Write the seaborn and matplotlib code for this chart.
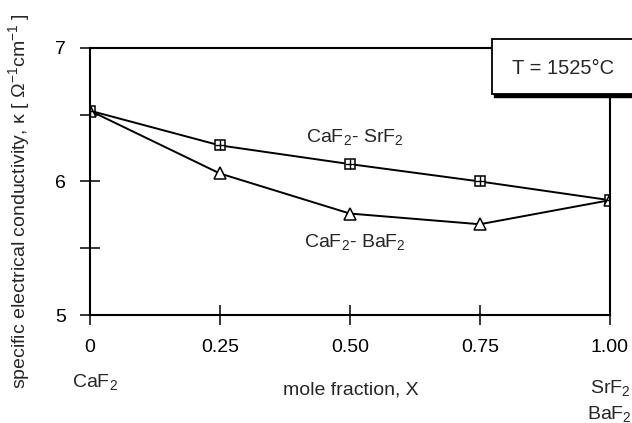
import matplotlib
matplotlib.use("Agg")
import matplotlib.pyplot as plt
import seaborn as sns
import pandas as pd
from matplotlib.patches import Rectangle

x_frac = [0.0, 0.25, 0.50, 0.75, 1.00]
kappa_srf2 = [6.53, 6.27, 6.13, 6.00, 5.86]
kappa_baf2 = [6.53, 6.06, 5.76, 5.68, 5.86]
x_ticks = [0.0, 0.25, 0.50, 0.75, 1.00]
x_ticklabels = ["0", "0.25", "0.50", "0.75", "1.00"]
y_ticks = [5, 5.5, 6, 6.5, 7]
y_ticklabels = ["5", "", "6", "", "7"]

sns.set_style("white")
plt.rcParams['font.family'] = ['Liberation Sans', 'DejaVu Sans']
plt.rcParams['mathtext.fontset'] = 'custom'
plt.rcParams['mathtext.rm'] = 'Liberation Sans'
plt.rcParams['mathtext.it'] = 'Liberation Sans'

FS = 14

df_sr = pd.DataFrame({"x": x_frac, "k": kappa_srf2})
df_ba = pd.DataFrame({"x": x_frac, "k": kappa_baf2})

fig = plt.figure(figsize=(6.32, 4.23), dpi=100)
ax = fig.add_axes([0.142, 0.255, 0.823, 0.632])

sns.lineplot(data=df_sr, x="x", y="k", ax=ax, color="black", lw=1.4,
             marker="s", markersize=7, markerfacecolor="white",
             markeredgecolor="black", markeredgewidth=1.1)
sns.scatterplot(data=df_sr, x="x", y="k", ax=ax, marker="+", s=45,
                color="black", linewidth=1.0, zorder=5)
sns.lineplot(data=df_ba, x="x", y="k", ax=ax, color="black", lw=1.4,
             marker="^", markersize=8, markerfacecolor="white",
             markeredgecolor="black", markeredgewidth=1.1)

ax.set_xlim(0, 1.0)
ax.set_ylim(5, 7)
ax.set_xticks(x_ticks)
ax.set_xticklabels(x_ticklabels)
ax.set_yticks(y_ticks)
ax.set_yticklabels(y_ticklabels)
ax.tick_params(axis="both", direction="inout", length=14, width=1.1,
               labelsize=FS, colors="black", pad=10,
               bottom=True, left=True, top=False, right=False)
for s in ax.spines.values():
    s.set_visible(True)
    s.set_color("black")
    s.set_linewidth(1.5)

ax.set_xlabel("")
ax.set_ylabel("")

fig.text(0.555, 0.078, "mole fraction, X", fontsize=FS, ha="center", va="center")
fig.text(0.03, 0.525, r"specific electrical conductivity, κ [ Ω$^{-1}$cm$^{-1}$ ]",
         fontsize=FS, rotation=90, ha="center", va="center")
fig.text(0.150, 0.097, r"CaF$_2$", fontsize=FS, ha="center", va="center")
fig.text(0.965, 0.082, r"SrF$_2$", fontsize=FS, ha="center", va="center")
fig.text(0.965, 0.022, r"BaF$_2$", fontsize=FS, ha="center", va="center")

ax.text(0.51, 6.33, r"CaF$_2$- SrF$_2$", fontsize=FS, ha="center", va="center")
ax.text(0.51, 5.55, r"CaF$_2$- BaF$_2$", fontsize=FS, ha="center", va="center")

# temperature box (shadowed)
shadow = Rectangle((0.782, 0.771), 0.25, 0.132, transform=fig.transFigure,
                   facecolor="black", edgecolor="black", clip_on=False, zorder=9)
box = Rectangle((0.778, 0.778), 0.25, 0.130, transform=fig.transFigure,
                facecolor="white", edgecolor="black", lw=1.3, clip_on=False, zorder=10)
fig.patches.extend([shadow, box])
fig.text(0.891, 0.837, "T = 1525°C", fontsize=14.5, ha="center", va="center", zorder=11)

fig.savefig("out.png", dpi=100, facecolor="white")
